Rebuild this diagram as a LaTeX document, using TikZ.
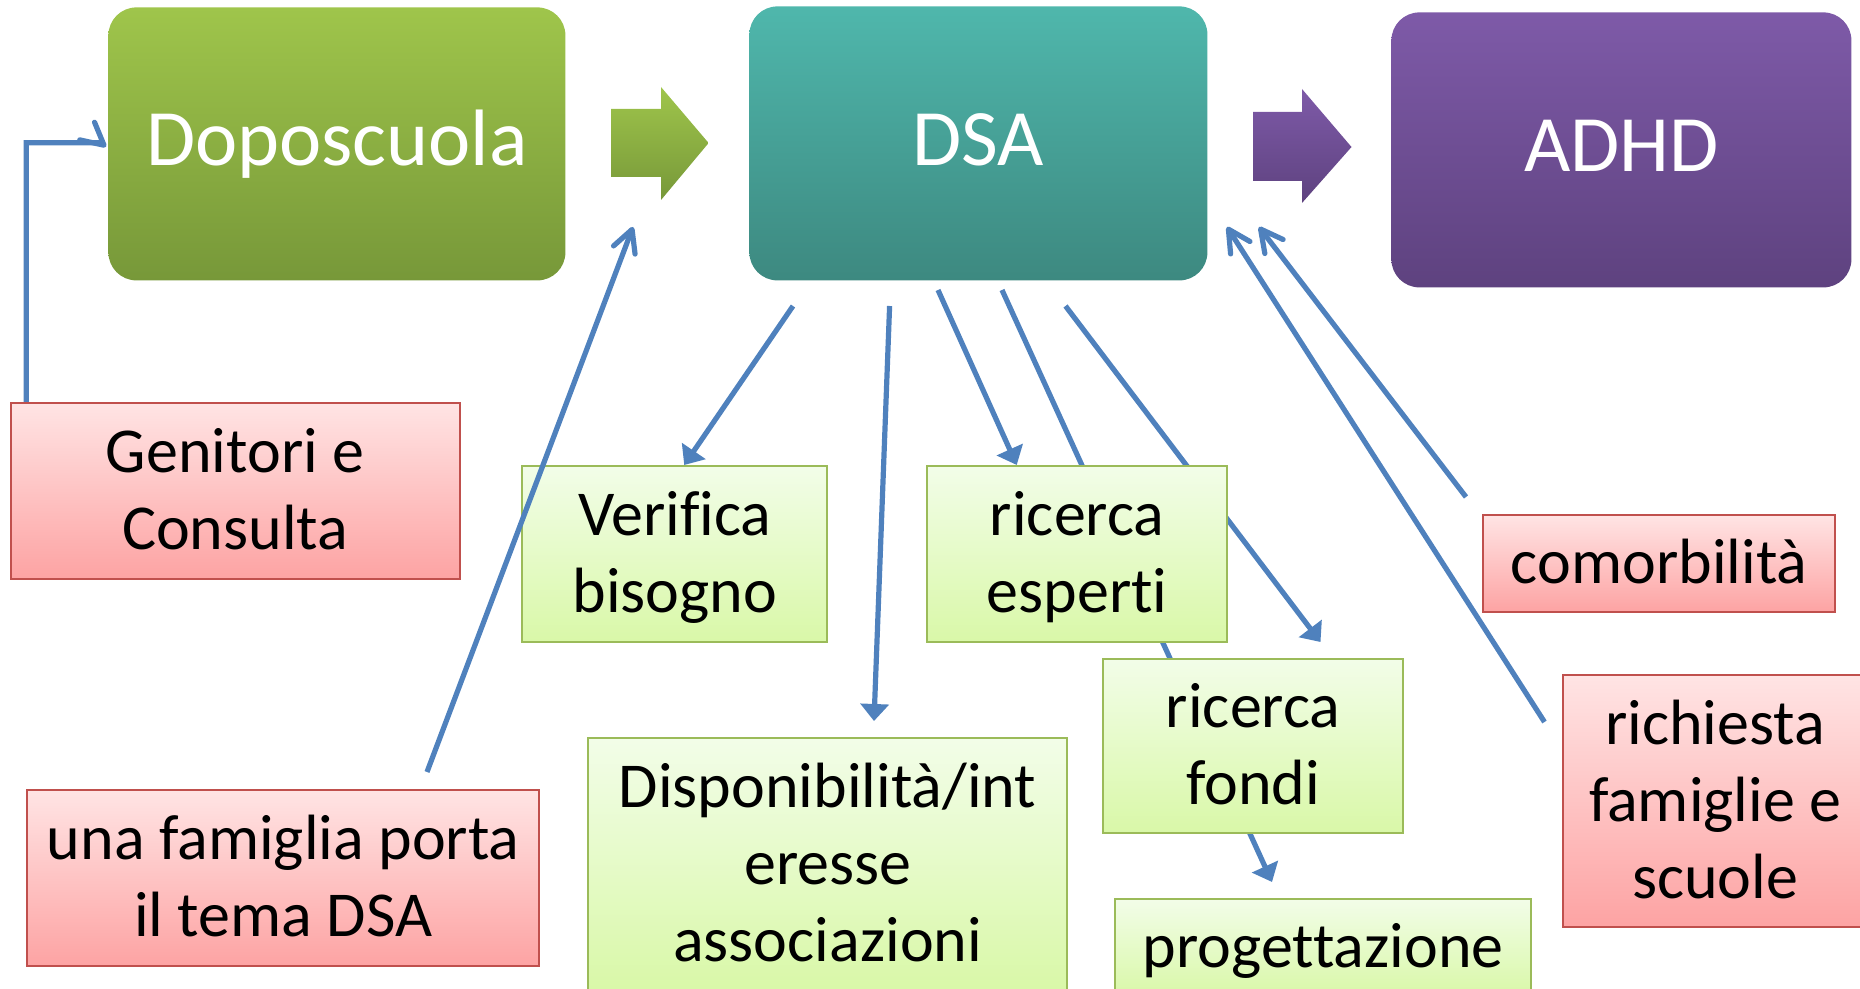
\documentclass[tikz,border=0pt]{standalone}
\usepackage{fontspec}
\setmainfont{Carlito}[Ligatures=NoCommon]
\usetikzlibrary{arrows.meta,calc}
\pgfdeclarelayer{bg}
\pgfsetlayers{bg,main}
\definecolor{gtop}{RGB}{159,197,75}
\definecolor{gbot}{RGB}{119,152,57}
\definecolor{ttop}{RGB}{79,183,172}
\definecolor{tbot}{RGB}{61,137,128}
\definecolor{ptop}{RGB}{126,90,168}
\definecolor{pbot}{RGB}{94,66,127}
\definecolor{rtop}{RGB}{255,228,228}
\definecolor{rbot}{RGB}{253,163,163}
\definecolor{rline}{RGB}{192,80,77}
\definecolor{ltop}{RGB}{242,253,232}
\definecolor{lbot}{RGB}{217,248,168}
\definecolor{lline}{RGB}{155,187,89}
\definecolor{conn}{RGB}{79,129,189}
\newcommand\smst{\rule[-0.29em]{0pt}{1.2em}}
\newcommand\bgst{\rule[-0.325em]{0pt}{1.2em}}
\begin{document}
\begin{tikzpicture}[x=0.5pt,y=-0.5pt,
  bigbox/.style={rounded corners=14pt, inner sep=0pt, anchor=north west, text=white,
    font=\fontsize{40}{48}\selectfont},
  smallbox/.style={inner sep=0pt, anchor=north west, align=center, line width=1.2pt,
    font=\fontsize{32}{38.5}\selectfont},
  redbox/.style={smallbox, draw=rline, top color=rtop, bottom color=rbot},
  lgbox/.style={smallbox, draw=lline, top color=ltop, bottom color=lbot},
  conn/.style={draw=conn, line width=2.6pt},
  filled/.style={conn, -{Triangle[length=8.5pt,width=14pt]}},
  openarr/.style={conn, -{Straight Barb[length=11pt,width=11.5pt,round]}}
]
\useasboundingbox (0,0) rectangle (1860,989);
\clip (0,0) rectangle (1860,989);

% top boxes
\node[bigbox, top color=gtop, bottom color=gbot, minimum width=228.5pt, minimum height=136.5pt] (dop) at (108,7) {\bgst Doposcuola};
\node[bigbox, top color=ttop, bottom color=tbot, minimum width=229pt, minimum height=137pt] (dsa) at (749,6) {\bgst DSA};
\node[bigbox, top color=ptop, bottom color=pbot, minimum width=230pt, minimum height=137.5pt] (adhd) at (1391,12) {\bgst ADHD};

% block arrows
\shade[top color=gtop, bottom color=gbot] (611,109) -- (661,109) -- (661,87) -- (708.6,143) -- (661,200) -- (661,177) -- (611,177) -- cycle;
\shade[top color=ptop, bottom color=pbot] (1253,112) -- (1302,112) -- (1302,89) -- (1351.5,147) -- (1302,203) -- (1302,181) -- (1253,181) -- cycle;

% lower boxes
\node[redbox, minimum width=224.5pt, minimum height=88pt] (gen) at (9.5,402) {\smst Genitori e\\\smst Consulta};
\node[redbox, minimum width=256pt, minimum height=88pt] (fam) at (26,789) {\smst una famiglia porta\\\smst il tema DSA};
\node[lgbox, minimum width=152.5pt, minimum height=88pt] (ver) at (521,465) {\smst Verifica\\\smst bisogno};
\node[lgbox, minimum width=150pt, minimum height=88pt] (esp) at (926,465) {\smst ricerca\\\smst esperti};
\node[lgbox, minimum width=150pt, minimum height=87pt] (fon) at (1102,658) {\smst ricerca\\\smst fondi};
\node[lgbox, minimum width=239.5pt, minimum height=126pt] (disp) at (587,737) {\smst Disponibilità/int\\\smst eresse\\\smst associazioni};
\node[lgbox, minimum width=208pt, minimum height=48.5pt] (prog) at (1114,898) {\smst progettazione};
\node[redbox, minimum width=176pt, minimum height=48.5pt] (com) at (1482,514) {\smst comorbilità};
\node[redbox, minimum width=152pt, minimum height=126pt] (ric) at (1562,674) {\smst richiesta\\\smst famiglie e\\\smst scuole};

% connector end points
\coordinate (dsaA) at (793,306);
\coordinate (dsaB) at (889.6,306);
\coordinate (dsaC) at (938,290);
\coordinate (dsaD) at (1002,290);
\coordinate (dsaE) at (1065.5,306);
\coordinate (dispIn) at (874,721);
\coordinate (progIn) at (1272,882);
\coordinate (fonIn) at (1320.5,642);
\coordinate (famOut) at (427,772);
\coordinate (ricOut) at (1544.5,722);
\coordinate (comOut) at (1466,497);
\coordinate (dsaIn1) at (633,227);
\coordinate (dsaIn2) at (1227,227);
\coordinate (dsaIn3) at (1259,227);
\coordinate (genOut) at ($(gen.north west)!0.037!(gen.north east)$);
\coordinate (dopBend) at (101,142.7);
\coordinate (dopIn) at ($(dop.west)+(-2,3)$);

% connectors hidden behind boxes
\begin{pgfonlayer}{bg}
\draw[filled] (dsaD) -- (progIn);
\draw[filled] (dsaE) -- (fonIn);
\end{pgfonlayer}

% connectors
\draw[openarr] (genOut) |- (dopBend) -- (dopIn);
\draw[filled] (dsaA) -- ($(ver.north west)!0.531!(ver.north east)$);
\draw[filled] (dsaB) -- (dispIn);
\draw[filled] (dsaC) -- ($(esp.north west)!0.3!(esp.north east)$);
\draw[openarr] (famOut) -- (dsaIn1);
\draw[openarr] (ricOut) -- (dsaIn2);
\draw[openarr] (comOut) -- (dsaIn3);
\end{tikzpicture}
\end{document}
